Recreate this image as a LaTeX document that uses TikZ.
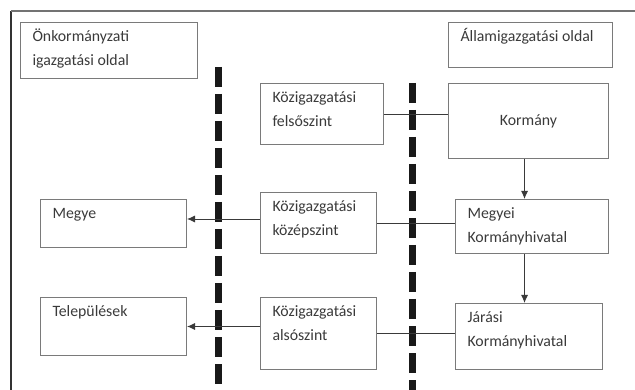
\documentclass[tikz,border=0pt]{standalone}
\usepackage{fontspec}
\setmainfont{Carlito}
\usetikzlibrary{arrows.meta, positioning}
\definecolor{boxgray}{HTML}{7A7A7A}
\definecolor{textgray}{HTML}{3A3A3A}
\newcommand{\toptext}[3]{\parbox[t][#2][t]{#1}{\raggedright\strut #3}}
\tikzstyle{box} = [rectangle, draw=boxgray, line width=1pt, anchor=north west, inner xsep=12pt, inner ysep=3pt, text=textgray, align=left]
\tikzstyle{centerbox} = [rectangle, draw=boxgray, line width=1pt, anchor=north west, text=textgray, text centered]
\tikzstyle{arrow} = [line width=0.9pt, draw=textgray, -{Latex[length=8pt,width=7pt]}]
\tikzstyle{link} = [line width=0.9pt, draw=textgray]
\tikzstyle{divider} = [line width=7pt, draw=black!90, dash pattern=on 20pt off 7pt]
\tikzset{
  font={\fontsize{15.8pt}{23.5pt}\selectfont}}

\begin{document}
\begin{tikzpicture}[x=1pt, y=-1pt]
    \useasboundingbox (0,0) rectangle (635,390);
    % frame
    \draw [line width=1.2pt, draw=black!80] (11,390) -- (11,11);
    \draw [line width=1.2pt, draw=black!55] (11,11) -- (635,11);

    % headers
    \node (onkorm) at (20,22) [box] {\toptext{153pt}{50pt}{Önkormányzati\\igazgatási oldal}};
    \node (allam) at (448,22) [box] {\toptext{140pt}{39pt}{Államigazgatási oldal}};

    % levels
    \node (felso) at (260,83) [box] {\toptext{99pt}{55pt}{Közigazgatási\\felsőszint}};
    \node (kozep) at (260,192) [box] {\toptext{92pt}{55pt}{Közigazgatási\\középszint}};
    \node (also) at (260,297) [box] {\toptext{92pt}{66pt}{Közigazgatási\\alsószint}};

    % state side
    \node (korm) at (448,83) [centerbox, minimum width=160pt, minimum height=75pt] {Kormány};
    \node (megyei) at (455,199) [box] {\toptext{129pt}{48pt}{Megyei\\Kormányhivatal}};
    \node (jarasi) at (455,303) [box] {\toptext{123pt}{60pt}{Járási\\Kormányhivatal}};

    % local side
    \node (megye) at (40,199) [box] {\toptext{122pt}{42pt}{Megye}};
    \node (telep) at (40,297) [box] {\toptext{122pt}{52pt}{Települések}};

    % dividers
    \draw [divider] (218,67) -- (218,398);
    \draw [divider] (412,83) -- (412,398);

    \draw [link] (felso.east) -- (felso.east -| korm.west);
    \draw [link] (kozep.east) -- (kozep.east -| megyei.west);
    \draw [link] (also.east) -- (also.east -| jarasi.west);
    \draw [arrow] ([yshift=4pt]kozep.west) -- ([yshift=4pt]kozep.west -| megye.east);
    \draw [arrow] (telep.east -| also.west) -- (telep.east);
    \draw [arrow] ([xshift=-4pt]korm.south) -- ([xshift=-4pt]korm.south |- megyei.north);
    \draw [arrow] ([xshift=-4pt]korm.south |- megyei.south) -- ([xshift=-4pt]korm.south |- jarasi.north);
\end{tikzpicture}
\end{document}
